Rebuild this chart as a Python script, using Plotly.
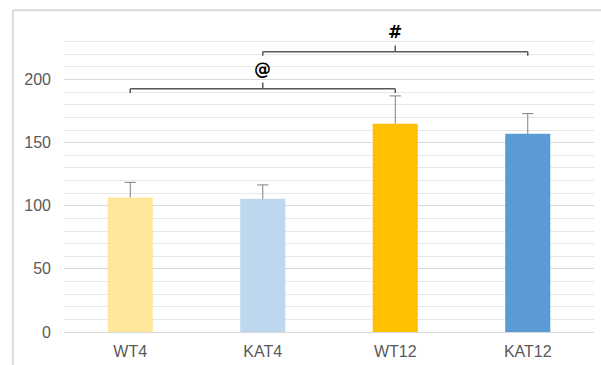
import plotly.graph_objects as go

# Group means and upper standard deviations
groups = ["WT4", "KAT4", "WT12", "KAT12"]
means = [106.5, 105.5, 165, 157]
sd_upper = [12, 11, 22, 16]
bar_colors = ["#FFE699", "#BDD7EE", "#FFC000", "#5B9BD5"]

# Significance brackets: (left group index, right group index, symbol)
brackets = [(0, 2, "@"), (1, 3, "#")]
bracket_levels = [192.6, 222.0]   # y of the horizontal bracket line
label_levels = [208.5, 237.5]     # y of the symbol above each bracket

err_color = "#7F7F7F"

fig = go.Figure()
fig.add_trace(go.Bar(
    x=groups,
    y=means,
    marker=dict(color=bar_colors, line=dict(width=0)),
    width=0.34,
    error_y=dict(
        type="data",
        symmetric=False,
        array=sd_upper,
        arrayminus=[0] * len(sd_upper),
        color=err_color,
        thickness=1,
        width=0,
    ),
))
# caps at the top of each error bar
fig.add_trace(go.Scatter(
    x=groups,
    y=[m + s for m, s in zip(means, sd_upper)],
    mode="markers",
    marker=dict(symbol="line-ew", size=8, line=dict(color=err_color, width=1)),
    hoverinfo="skip",
))

line_style = dict(color="#595959", width=1.5)
shapes = []
annotations = []
for (i0, i1, sym), yb, yl in zip(brackets, bracket_levels, label_levels):
    mid = (i0 + i1) / 2
    # horizontal bar with short drops at both ends and a tick up in the middle
    shapes.append(dict(type="line", xref="x", yref="y", x0=i0, x1=i1, y0=yb, y1=yb, line=line_style))
    shapes.append(dict(type="line", xref="x", yref="y", x0=i0, x1=i0, y0=yb, y1=yb - 3.2, line=line_style))
    shapes.append(dict(type="line", xref="x", yref="y", x0=i1, x1=i1, y0=yb, y1=yb - 3.2, line=line_style))
    shapes.append(dict(type="line", xref="x", yref="y", x0=mid, x1=mid, y0=yb, y1=yb + 5, line=line_style))
    annotations.append(dict(
        x=mid, y=yl, xref="x", yref="y", text=sym, showarrow=False,
        font=dict(family="DejaVu Sans", size=17, color="#000000", weight="bold"),
    ))

# Outer chart frame (top and left edges)
frame = dict(color="#D9D9D9", width=2)
shapes.append(dict(type="line", xref="paper", yref="paper", x0=-0.0965, x1=1.02, y0=1.0615, y1=1.0615, line=frame, layer="below"))
shapes.append(dict(type="line", xref="paper", yref="paper", x0=-0.0965, x1=-0.0965, y0=1.0615, y1=-0.12, line=frame, layer="below"))

fig.update_layout(
    width=601,
    height=365,
    margin=dict(l=64, r=7, t=29, b=33),
    paper_bgcolor="white",
    plot_bgcolor="white",
    showlegend=False,
    shapes=shapes,
    annotations=annotations,
    font=dict(family="Liberation Sans, Arial", size=16, color="#595959"),
    xaxis=dict(
        type="category",
        range=[-0.5, 3.5],
        showgrid=False,
        showline=False,
        ticks="",
        tickfont=dict(size=16, color="#595959"),
        ticklabelstandoff=8,
        automargin=False,
    ),
    yaxis=dict(
        range=[0, 240],
        dtick=50,
        tick0=0,
        showline=False,
        ticks="",
        showgrid=True,
        gridcolor="#D9D9D9",
        gridwidth=1,
        zeroline=True,
        zerolinecolor="#D9D9D9",
        zerolinewidth=1,
        tickfont=dict(size=16, color="#595959"),
        ticklabelstandoff=12,
        automargin=False,
        minor=dict(dtick=10, tick0=0, showgrid=True, gridcolor="#E7E7E7", gridwidth=1),
    ),
    bargap=0.66,
)

fig.write_html("out.html")
